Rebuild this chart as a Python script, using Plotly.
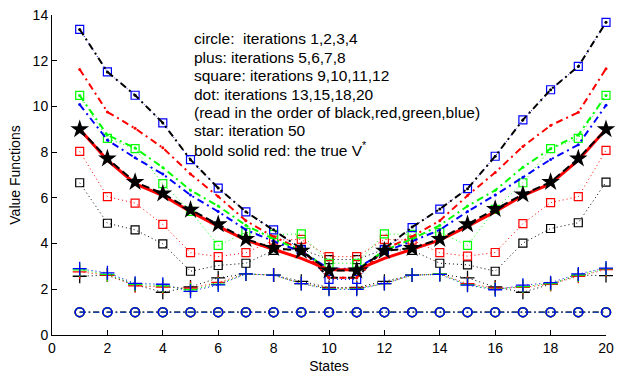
import plotly.graph_objects as go

states = list(range(1, 21))

# circle: iterations 1-4 (black, red, green, blue)
it1 = [1.0] * 20
it2 = [1.0] * 20
it3 = [1.0] * 20
it4 = [1.0] * 20

# plus: iterations 5-8
it5 = [2.57, 2.62, 2.20, 1.87, 2.10, 2.50, 2.67, 2.62, 2.35, 2.08, 2.08, 2.35, 2.62, 2.65, 2.50, 2.10, 1.87, 2.22, 2.62, 2.60]
it6 = [2.76, 2.62, 2.15, 2.10, 2.05, 2.30, 2.67, 2.62, 2.25, 2.05, 2.05, 2.25, 2.62, 2.67, 2.25, 2.05, 2.08, 2.22, 2.57, 2.86]
it7 = [2.85, 2.65, 2.22, 2.15, 1.98, 2.22, 2.67, 2.62, 2.25, 2.02, 2.02, 2.25, 2.62, 2.67, 2.20, 2.00, 2.12, 2.25, 2.62, 2.90]
it8 = [2.90, 2.72, 2.26, 2.22, 1.91, 2.19, 2.67, 2.62, 2.25, 2.00, 2.00, 2.25, 2.62, 2.65, 2.18, 1.98, 2.18, 2.29, 2.67, 2.93]

# square: iterations 9-12
it9 = [6.66, 4.89, 4.60, 3.99, 2.79, 3.04, 3.14, 3.70, 3.75, 3.30, 3.30, 3.75, 3.70, 3.14, 3.07, 2.79, 4.02, 4.66, 4.91, 6.69]
it10 = [8.03, 6.05, 5.77, 4.84, 3.60, 3.43, 3.60, 4.15, 4.18, 3.43, 3.43, 4.18, 4.15, 3.60, 3.45, 3.61, 4.87, 5.79, 6.05, 8.08]
it11 = [10.48, 8.60, 8.15, 6.62, 5.41, 3.92, 4.49, 4.40, 4.42, 3.14, 3.14, 4.42, 4.40, 4.49, 3.92, 5.50, 6.66, 8.15, 8.60, 10.48]
it12 = [13.37, 11.51, 10.49, 9.28, 7.67, 6.43, 5.39, 4.60, 3.72, 2.43, 2.43, 3.72, 4.70, 5.51, 6.40, 7.82, 9.41, 10.73, 11.75, 13.68]

# dot: iterations 13, 15, 18, 20
it13 = [13.37, 11.51, 10.49, 9.28, 7.67, 6.43, 5.39, 4.60, 3.78, 2.50, 2.50, 3.78, 4.72, 5.51, 6.40, 7.82, 9.41, 10.73, 11.75, 13.68]
it15 = [11.62, 9.76, 9.04, 8.19, 7.04, 6.06, 5.00, 4.30, 3.75, 2.50, 2.50, 3.75, 4.30, 5.00, 6.10, 7.11, 8.25, 9.17, 9.74, 11.65]
it18 = [10.48, 8.75, 8.18, 7.33, 6.33, 5.64, 4.80, 4.20, 3.70, 2.85, 2.85, 3.70, 4.20, 4.80, 5.64, 6.33, 7.34, 8.15, 8.75, 10.48]
it20 = [10.08, 8.53, 7.75, 7.04, 6.12, 5.40, 4.60, 4.10, 3.65, 2.90, 2.90, 3.65, 4.10, 4.60, 5.40, 6.12, 6.90, 7.68, 8.32, 10.05]

# star: iteration 50
it50 = [9.00, 7.72, 6.69, 6.19, 5.48, 4.84, 4.20, 3.80, 3.68, 2.82, 2.82, 3.68, 3.80, 4.20, 4.84, 5.51, 6.15, 6.69, 7.72, 9.00]

# true V*
vstar = [9.00, 7.65, 6.62, 6.10, 5.40, 4.75, 4.15, 3.75, 3.35, 2.85, 2.85, 3.35, 3.75, 4.15, 4.75, 5.40, 6.10, 6.62, 7.65, 9.00]

colors = ["#000000", "#ff0000", "#00ff00", "#0000ff"]

FONT = "Liberation Sans, Arial, Helvetica"

fig = go.Figure()

def add(y, color, dash, width, symbol, msize, mlw=1.0):
    fig.add_trace(go.Scatter(
        x=states, y=y, mode="lines+markers", cliponaxis=False,
        line=dict(color=color, dash=dash, width=width),
        marker=dict(symbol=symbol, size=msize, color=color,
                    line=dict(color=color, width=mlw)),
        showlegend=False, hoverinfo="skip"))

for y, c in zip([it1, it2, it3, it4], colors):
    add(y, c, "6px,3px,1.5px,3px", 1, "circle-open", 9, 1.5)
for y, c in zip([it5, it6, it7, it8], colors):
    add(y, c, "1px,3px", 1, "cross-thin-open", 10, 1.3)
for y, c in zip([it9, it10, it11, it12], colors):
    add(y, c, "1px,3px", 1, "square-open", 8, 1.2)
for y, c in zip([it13, it15, it18, it20], colors):
    add(y, c, "7px,4px,2px,4px", 2, "circle", 3, 0)

fig.add_trace(go.Scatter(
    x=states, y=vstar, mode="lines", cliponaxis=False,
    line=dict(color="#ff0000", width=3), showlegend=False, hoverinfo="skip"))
add(it50, "#000000", "8px,4px", 2, "star", 14, 0)

lines = [
    "circle:  iterations 1,2,3,4",
    "plus: iterations 5,6,7,8",
    "square: iterations 9,10,11,12",
    "dot: iterations 13,15,18,20",
    "(read in the order of black,red,green,blue)",
    "star: iteration 50",
    "bold solid red: the true V<sup>*</sup>",
]
ys = [12.96, 12.15, 11.34, 10.53, 9.74, 8.96, 8.15]
for t, yy in zip(lines, ys):
    fig.add_annotation(x=5.07, y=yy, xref="x", yref="y", text=t, showarrow=False,
                       xanchor="left", yanchor="middle",
                       font=dict(family=FONT, size=15.5, color="black"))

axis_common = dict(showline=True, linecolor="black", linewidth=1, ticks="inside",
                   ticklen=5, tickcolor="black", showgrid=False, zeroline=False,
                   mirror=False, ticklabeloverflow="allow",
                   tickfont=dict(family=FONT, size=14, color="black"))

fig.update_layout(
    width=621, height=379,
    margin=dict(l=52, r=8, t=7, b=44),
    paper_bgcolor="white", plot_bgcolor="white",
    xaxis=dict(range=[0, 20], tickvals=list(range(0, 21, 2)),
               title=dict(text="States", standoff=6,
                          font=dict(family=FONT, size=14, color="black")),
               **axis_common),
    yaxis=dict(range=[0, 14], tickvals=list(range(0, 15, 2)),
               title=dict(text="Value Functions", standoff=8,
                          font=dict(family=FONT, size=14, color="black")),
               **axis_common),
)

fig.write_html("out.html")
